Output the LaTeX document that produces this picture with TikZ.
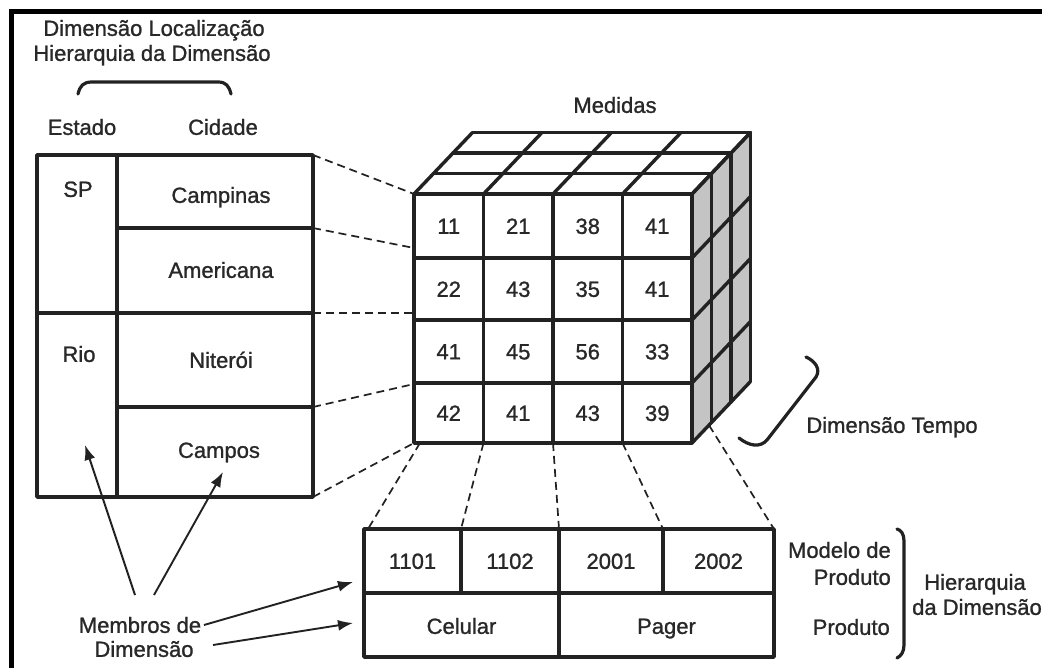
\documentclass[tikz,border=0pt]{standalone}
\usepackage{fontspec}
\setmainfont{Liberation Sans}[FakeBold=1.1]
\usetikzlibrary{arrows.meta,calc}
\definecolor{ink}{RGB}{34,34,34}
\definecolor{txt}{RGB}{40,40,40}
\definecolor{sidegray}{RGB}{196,196,196}

\begin{document}
\begin{tikzpicture}[x=1pt,y=-1pt,
  lbl/.style={font=\fontsize{22}{25}\selectfont, text=txt, inner sep=0pt,
              text height=15.75pt, text depth=0pt},
  rule/.style={draw=ink, line width=3.4pt, line cap=round, line join=round},
  guide/.style={draw=ink, line width=1.7pt, dash pattern=on 8pt off 5pt},
  pointer/.style={draw=ink, line width=1.9pt, -{Latex[length=15pt,width=11pt]}},
  bracket/.style={draw=ink, line width=3.2pt, line cap=round}]

\useasboundingbox (0,0) rectangle (1042,668);
\fill[white] (0,0) rectangle (1042,668);

% page frame (top and left rules)
\draw[line width=4.5pt, black] (11.5,668) -- (11.5,11.5) -- (1042,11.5);

% ---------- location dimension ----------
\node[lbl] (loc1) at (154,28) {Dimensão Localização};
\node[lbl] (loc2) at (152,53) {Hierarquia da Dimensão};
\draw[bracket] (78,94) .. controls (80,86) and (83,82) .. (92,82)
  -- (218,82) .. controls (226,82) and (229,86) .. (231,94);
\node[lbl] (estado) at (82,127) {Estado};
\node[lbl] (cidade) at (223,127) {Cidade};

\coordinate (L1) at (313,155);
\coordinate (L2) at (313,228);
\coordinate (L3) at (313,313);
\coordinate (L4) at (313,407);
\coordinate (L5) at (313,497);
\draw[rule] (37,155) rectangle (L5);
\draw[rule] (117,155) -- (117,497);
\draw[rule] (37,313) -- (L3);
\draw[rule] (117,228) -- (L2);
\draw[rule] (117,407) -- (L4);

\node[lbl] (sp)  at (78,189) {SP};
\node[lbl] (rio) at (79,354) {Rio};
\node[lbl] (campinas)  at (221,195) {Campinas};
\node[lbl] (americana) at (221,270) {Americana};
\node[lbl] (niteroi)   at (221,360) {Niterói};
\node[lbl] (campos)    at (219,450) {Campos};

% ---------- cube ----------
\coordinate (C-ftl) at (414,194);
\coordinate (C-fbl) at (414,443);
\coordinate (C-ftr) at (692,194);
\coordinate (C-fbr) at (692,443);
\coordinate (C-btr) at (750.5,132.5);
\coordinate (C-bbr) at (750.5,381.5);
\coordinate (C-btl) at (472.5,132.5);

\fill[sidegray] (C-ftr) -- (C-btr) -- (C-bbr) -- (C-fbr) -- cycle;

% top face
\foreach \k in {0,1,2,3}
  \draw[rule] ({414+19.5*\k},{194-20.5*\k}) -- ({692+19.5*\k},{194-20.5*\k});
\foreach \x in {414,483.5,553,622.5,692}
  \draw[rule] (\x,194) -- ++(58.5,-61.5);
% side face
\foreach \k in {0,1,2,3}
  \draw[rule] ({692+19.5*\k},{194-20.5*\k}) -- ++(0,249);
\foreach \y in {194,258,320,383,443}
  \draw[rule] (692,\y) -- ++(58.5,-61.5);
% front face
\draw[rule] (C-ftl) rectangle (C-fbr);
\foreach \x in {483.5,553,622.5}
  \draw[rule] (\x,194) -- (\x,443);
\foreach \y in {258,320,383}
  \draw[rule] (414,\y) -- (692,\y);

\foreach \v [count=\c] in {11,21,38,41}
  \node[lbl] (m1-\c) at ({414+69.5*(\c-0.5)},226) {\v};
\foreach \v [count=\c] in {22,43,35,41}
  \node[lbl] (m2-\c) at ({414+69.5*(\c-0.5)},289) {\v};
\foreach \v [count=\c] in {41,45,56,33}
  \node[lbl] (m3-\c) at ({414+69.5*(\c-0.5)},351.5) {\v};
\foreach \v [count=\c] in {42,41,43,39}
  \node[lbl] (m4-\c) at ({414+69.5*(\c-0.5)},413) {\v};

\node[lbl] (medidas) at (615,105) {Medidas};

% time dimension
\draw[bracket] (806,357) .. controls (815,361) and (821,369) .. (816,377)
  -- (767,440) .. controls (760,448) and (749,446) .. (739,438);
\node[lbl] (tempo) at (892,425) {Dimensão Tempo};

% guides from location members to the cube
\coordinate (E2) at (414,248);
\coordinate (E3) at (414,313);
\coordinate (E4) at (414,384);
\draw[guide] (L1) -- (C-ftl);
\draw[guide] (L2) -- (E2);
\draw[guide] (L3) -- (E3);
\draw[guide] (L4) -- (E4);
\draw[guide] (L5) -- (C-fbl);

% ---------- product dimension ----------
\coordinate (P1) at (364,529);
\coordinate (P2) at (461,529);
\coordinate (P3) at (559,529);
\coordinate (P4) at (663,529);
\coordinate (P5) at (774,529);
\draw[rule] (P1) rectangle (774,657);
\draw[rule] (364,593) -- (774,593);
\draw[rule] (P2) -- (461,593);
\draw[rule] (P3) -- (559,657);
\draw[rule] (P4) -- (663,593);

\node[lbl] (p1101) at (412.5,561) {1101};
\node[lbl] (p1102) at (510,561) {1102};
\node[lbl] (p2001) at (611,561) {2001};
\node[lbl] (p2002) at (718.5,561) {2002};
\node[lbl] (celular) at (461.5,626) {Celular};
\node[lbl] (pager)   at (666.5,626) {Pager};

\node[lbl, anchor=east] (modelo)  at (891,550) {Modelo de};
\node[lbl, anchor=east] (produto) at (891,577) {Produto};
\node[lbl, anchor=east] (prodlvl) at (890,627) {Produto};
\draw[bracket] (897,529) .. controls (901,530) and (904,534) .. (904,541)
  -- (904,645) .. controls (904,652) and (901,656) .. (897,658);
\node[lbl] (hier1) at (975,582) {Hierarquia};
\node[lbl] (hier2) at (977,607) {da Dimensão};

% guides from the cube to product members
\coordinate (B1) at (420,443);
\coordinate (B2) at (483.5,443);
\coordinate (B3) at (553,443);
\coordinate (B4) at (622.5,443);
\coordinate (B5) at ($(C-fbr)!0.29!(C-bbr)$);
\draw[guide] (B1) -- (368,529);
\draw[guide] (B2) -- (P2);
\draw[guide] (B3) -- (P3);
\draw[guide] (B4) -- (P4);
\draw[guide] (B5) -- (P5);

% ---------- members label ----------
\node[lbl] (memb1) at (140,625) {Membros de};
\node[lbl] (memb2) at (144,649) {Dimensão};
\coordinate (A1s) at (135,595);
\coordinate (A1t) at (85,445);
\coordinate (A2s) at (154,595);
\coordinate (A2t) at (223,472);
\coordinate (A3s) at (204,625);
\coordinate (A3t) at (353,582);
\coordinate (A4s) at (213,645);
\coordinate (A4t) at (353,623);
\draw[pointer] (A1s) -- (A1t);
\draw[pointer] (A2s) -- (A2t);
\draw[pointer] (A3s) -- (A3t);
\draw[pointer] (A4s) -- (A4t);

\end{tikzpicture}
\end{document}
